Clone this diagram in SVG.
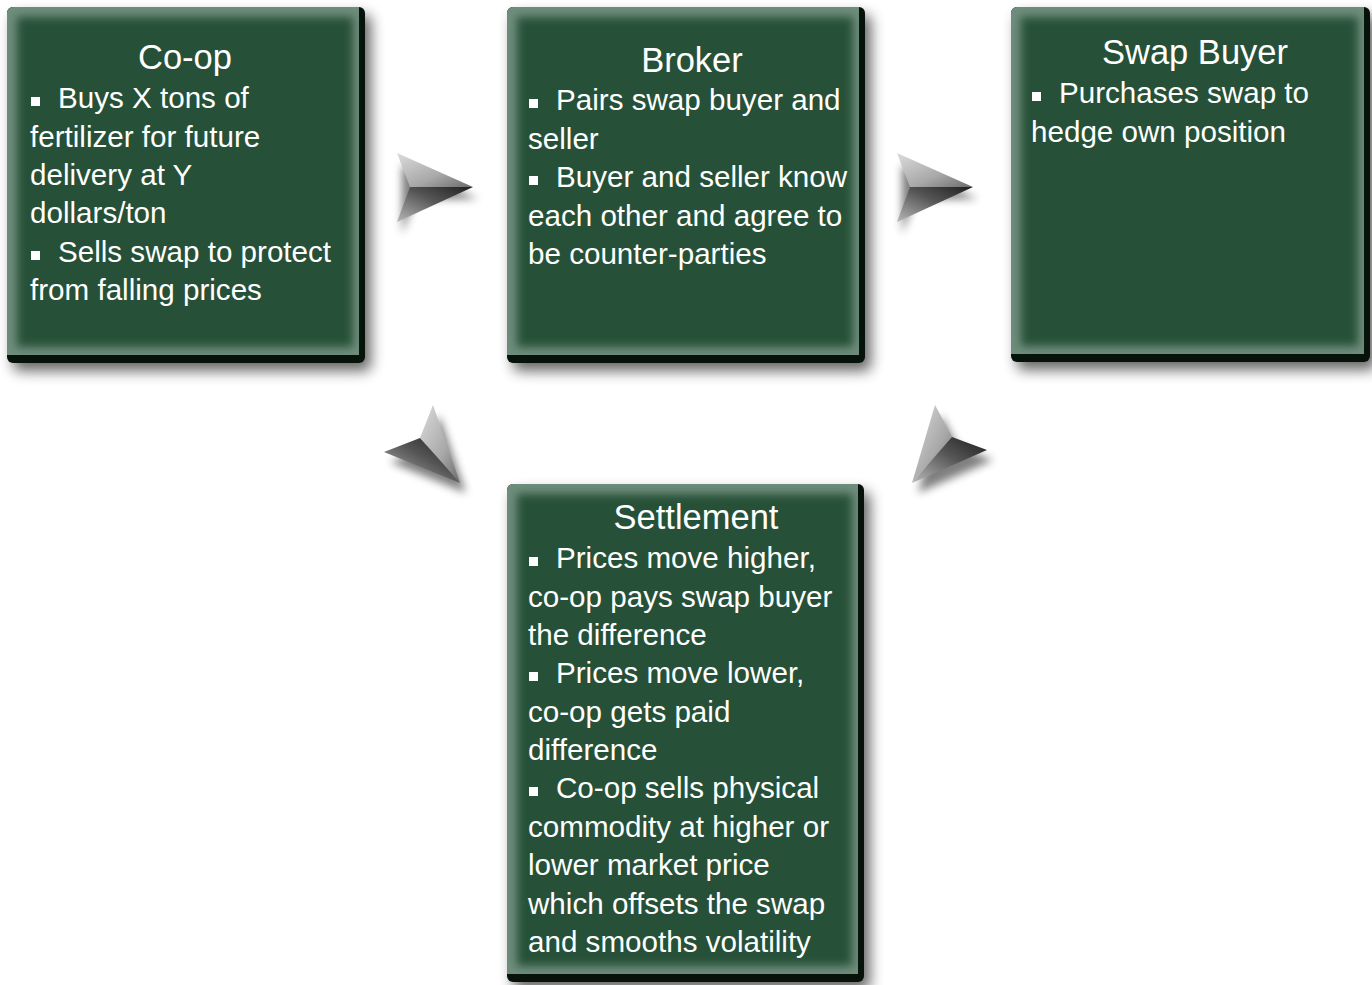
<svg xmlns="http://www.w3.org/2000/svg" width="1372" height="985" viewBox="0 0 1372 985">
<defs>
<style>
.t{font-family:"Liberation Sans",Arial,sans-serif;fill:#ffffff}
.h{font-size:34.5px;text-anchor:middle}
.b{font-size:29.6px}
.bul{fill:#ffffff}
.base{fill:#07120b}
.lite{fill:#6f8d7c}
.main{fill:#265138;filter:url(#soft)}
.shd{fill:#000;opacity:.6;filter:url(#shadow)}
</style>
<filter id="shadow" x="-20%" y="-20%" width="140%" height="140%"><feGaussianBlur stdDeviation="7"/></filter>
<filter id="soft" x="-10%" y="-10%" width="120%" height="120%"><feGaussianBlur stdDeviation="4.5"/></filter>
<filter id="ashadow" x="-50%" y="-50%" width="200%" height="200%"><feGaussianBlur stdDeviation="4"/></filter>
<clipPath id="c1"><rect x="7" y="7" width="358" height="356" rx="6"/></clipPath>
<clipPath id="c2"><rect x="507" y="7" width="358" height="356" rx="6"/></clipPath>
<clipPath id="c3"><rect x="1011" y="7" width="359" height="355" rx="6"/></clipPath>
<clipPath id="c4"><rect x="507" y="484" width="357" height="498" rx="6"/></clipPath>
<linearGradient id="gl" x1="0" y1="0" x2="1" y2="1"><stop offset="0" stop-color="#dcdcdc"/><stop offset="0.6" stop-color="#a8a8a8"/><stop offset="1" stop-color="#6a6a6a"/></linearGradient>
<linearGradient id="gd" x1="0" y1="1" x2="1" y2="0"><stop offset="0" stop-color="#b8b8b8"/><stop offset="0.55" stop-color="#555"/><stop offset="1" stop-color="#1e1e1e"/></linearGradient>
</defs>
<rect width="1372" height="985" fill="#ffffff"/>

<g id="connectors">
  <g id="arrow1">
    <polygon points="397,153 473,187 410,187 397,222" fill="#000" opacity=".5" filter="url(#ashadow)" transform="translate(5,12)"/>
    <polygon points="397,153 473,187 410,187" fill="url(#gl)"/>
    <polygon points="410,187 473,187 397,222" fill="url(#gd)"/>
  </g>
  <g id="arrow2">
    <polygon points="897,153 973,187 910,187 897,222" fill="#000" opacity=".5" filter="url(#ashadow)" transform="translate(5,12)"/>
    <polygon points="897,153 973,187 910,187" fill="url(#gl)"/>
    <polygon points="910,187 973,187 897,222" fill="url(#gd)"/>
  </g>
  <g id="arrow3">
    <polygon points="433,405 420,438 384,452 460,483" fill="#000" opacity=".5" filter="url(#ashadow)" transform="translate(6,10)"/>
    <polygon points="433,405 420,438 460,483" fill="url(#gl)"/>
    <polygon points="420,438 384,452 460,483" fill="url(#gd)"/>
  </g>
  <g id="arrow4">
    <polygon points="935,405 952,437 987,450 912,483" fill="#000" opacity=".5" filter="url(#ashadow)" transform="translate(6,10)"/>
    <polygon points="935,405 952,437 912,483" fill="url(#gl)"/>
    <polygon points="952,437 987,450 912,483" fill="url(#gd)"/>
  </g>
</g>

<g id="coop">
  <rect class="shd" x="13" y="15" width="358" height="356" rx="6"/>
  <g clip-path="url(#c1)">
    <rect class="base" x="7" y="7" width="358" height="356"/>
    <rect class="lite" x="7" y="7" width="352" height="348"/>
    <rect class="main" x="17" y="17" width="336" height="330"/>
  </g>
  <text class="t h" x="185" y="69">Co-op</text>
  <rect class="bul" x="31" y="97" width="9" height="9"/>
  <text class="t b" x="58" y="108">Buys X tons of</text>
  <text class="t b" x="30" y="146.5">fertilizer for future</text>
  <text class="t b" x="30" y="185">delivery at Y</text>
  <text class="t b" x="30" y="223">dollars/ton</text>
  <rect class="bul" x="31" y="251" width="9" height="9"/>
  <text class="t b" x="58" y="262">Sells swap to protect</text>
  <text class="t b" x="30" y="300">from falling prices</text>
</g>

<g id="broker">
  <rect class="shd" x="513" y="15" width="358" height="356" rx="6"/>
  <g clip-path="url(#c2)">
    <rect class="base" x="507" y="7" width="358" height="356"/>
    <rect class="lite" x="507" y="7" width="352" height="348"/>
    <rect class="main" x="517" y="17" width="336" height="330"/>
  </g>
  <text class="t h" x="692" y="72">Broker</text>
  <rect class="bul" x="529" y="99" width="9" height="9"/>
  <text class="t b" x="556" y="110">Pairs swap buyer and</text>
  <text class="t b" x="528" y="148.5">seller</text>
  <rect class="bul" x="529" y="176" width="9" height="9"/>
  <text class="t b" x="556" y="187">Buyer and seller know</text>
  <text class="t b" x="528" y="225.5">each other and agree to</text>
  <text class="t b" x="528" y="264">be counter-parties</text>
</g>

<g id="swapbuyer">
  <rect class="shd" x="1017" y="15" width="359" height="355" rx="6"/>
  <g clip-path="url(#c3)">
    <rect class="base" x="1011" y="7" width="359" height="355"/>
    <rect class="lite" x="1011" y="7" width="353" height="347"/>
    <rect class="main" x="1021" y="17" width="337" height="329"/>
  </g>
  <text class="t h" x="1195" y="64">Swap Buyer</text>
  <rect class="bul" x="1032" y="92" width="9" height="9"/>
  <text class="t b" x="1059" y="103">Purchases swap to</text>
  <text class="t b" x="1031" y="141.5">hedge own position</text>
</g>

<g id="settlement">
  <rect class="shd" x="513" y="492" width="357" height="498" rx="6"/>
  <g clip-path="url(#c4)">
    <rect class="base" x="507" y="484" width="357" height="498"/>
    <rect class="lite" x="507" y="484" width="351" height="490"/>
    <rect class="main" x="517" y="494" width="335" height="472"/>
  </g>
  <text class="t h" x="696" y="529">Settlement</text>
  <rect class="bul" x="529" y="557" width="9" height="9"/>
  <text class="t b" x="556" y="568">Prices move higher,</text>
  <text class="t b" x="528" y="606.5">co-op pays swap buyer</text>
  <text class="t b" x="528" y="645">the difference</text>
  <rect class="bul" x="529" y="672" width="9" height="9"/>
  <text class="t b" x="556" y="683">Prices move lower,</text>
  <text class="t b" x="528" y="721.5">co-op gets paid</text>
  <text class="t b" x="528" y="760">difference</text>
  <rect class="bul" x="529" y="787" width="9" height="9"/>
  <text class="t b" x="556" y="798">Co-op sells physical</text>
  <text class="t b" x="528" y="836.5">commodity at higher or</text>
  <text class="t b" x="528" y="875">lower market price</text>
  <text class="t b" x="528" y="913.5">which offsets the swap</text>
  <text class="t b" x="528" y="952">and smooths volatility</text>
</g>
</svg>
